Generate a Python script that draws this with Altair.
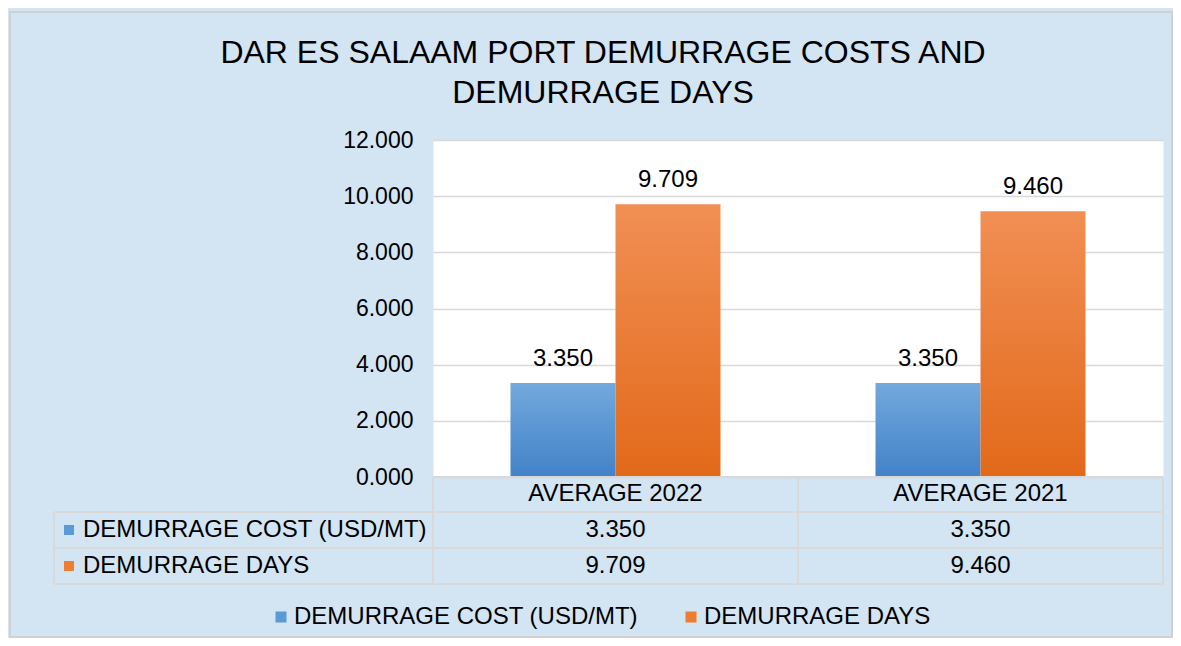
import altair as alt
import pandas as pd

# ---------------- data ----------------
categories = ["AVERAGE 2022", "AVERAGE 2021"]
series_names = ["DEMURRAGE COST (USD/MT)", "DEMURRAGE DAYS"]
cost_values = [3.350, 3.350]
days_values = [9.709, 9.460]
y_ticks = [0, 2, 4, 6, 8, 10, 12]
title_lines = ["DAR ES SALAAM PORT DEMURRAGE COSTS AND", "DEMURRAGE DAYS"]

rows = []
for s, vals in zip(series_names, [cost_values, days_values]):
    for c, v in zip(categories, vals):
        rows.append({"category": c, "series": s, "value": v})
df = pd.DataFrame(rows)
cat_df = pd.DataFrame({"category": categories})
ser_df = pd.DataFrame({"series": series_names})
one_df = pd.DataFrame({"k": [0]})

# ---------------- style ----------------
W, H = 730, 337
FONT = "Liberation Sans"
BLUE, ORANGE = "#5b9bd5", "#ed7d31"
GRID = "#d9d9d9"
BG = "#d3e4f3"


def grad(top, bottom):
    return alt.Gradient(
        gradient="linear", x1=0, y1=0, x2=0, y2=1,
        stops=[alt.GradientStop(color=top, offset=0),
               alt.GradientStop(color=bottom, offset=1)],
    )


fills = {series_names[0]: grad("#72a9de", "#4282c8"),
         series_names[1]: grad("#f18f54", "#e2691a")}
solid = {series_names[0]: BLUE, series_names[1]: ORANGE}
row_y = {series_names[0]: 390, series_names[1]: 426}

x_enc = alt.X("category:N", sort=categories,
              scale=alt.Scale(domain=categories, paddingInner=0.4247, paddingOuter=0.2123),
              axis=None)
xo_enc = alt.XOffset("series:N", sort=series_names,
                     scale=alt.Scale(domain=series_names, paddingInner=0, paddingOuter=0))
y_enc = alt.Y("value:Q",
              scale=alt.Scale(domain=[0, 12], nice=False, zero=True),
              axis=alt.Axis(values=y_ticks, format=".3f", title=None, domain=False,
                            ticks=False, labelPadding=20, labelFontSize=23,
                            labelFont=FONT, labelColor="#000000",
                            gridColor=GRID, gridWidth=1.5))

base = alt.Chart(df)
layers = []

# outer frame border
layers.append(alt.Chart(one_df).mark_rect(fill="transparent", stroke="#d0d0d0", strokeWidth=2)
              .encode(x=alt.value(-423), x2=alt.value(739), y=alt.value(-128), y2=alt.value(497)))

# invisible layer that carries the legend
layers.append(base.mark_bar(opacity=0).encode(
    x=x_enc, xOffset=xo_enc, y=y_enc,
    color=alt.Color("series:N", scale=alt.Scale(domain=series_names, range=[BLUE, ORANGE]),
                    legend=alt.Legend(orient="none", legendX=-164, legendY=465,
                                      direction="horizontal", title=None,
                                      symbolType="square", symbolSize=121,
                                      symbolOpacity=1, symbolStrokeWidth=0,
                                      labelFontSize=24, labelFont=FONT,
                                      labelColor="#000000", labelOffset=1,
                                      columnPadding=41, padding=0, labelLimit=600))))

# bars with gradients
for s in series_names:
    layers.append(base.transform_filter(alt.datum.series == s)
                  .mark_bar(fill=fills[s])
                  .encode(x=x_enc, xOffset=xo_enc, y=y_enc))

# bar value labels
layers.append(base.mark_text(fontSize=24, font=FONT, color="#000000", dy=-17,
                             baseline="alphabetic")
              .encode(x=x_enc, xOffset=xo_enc, y=alt.Y("value:Q"),
                      text=alt.Text("value:Q", format=".3f")))

# data table lines
def hrule(y, x1, x2):
    return alt.Chart(one_df).mark_rule(color=GRID, strokeWidth=2).encode(
        x=alt.value(x1), x2=alt.value(x2), y=alt.value(y))


def vrule(x, y1, y2):
    return alt.Chart(one_df).mark_rule(color=GRID, strokeWidth=2).encode(
        x=alt.value(x), y=alt.value(y1), y2=alt.value(y2))


layers += [hrule(H, 0, W), hrule(372, -379, W), hrule(408, -379, W), hrule(444, -379, W),
           vrule(0, H, 444), vrule(365, H, 444), vrule(W, H, 444), vrule(-379, 372, 444)]

# table header (categories)
layers.append(alt.Chart(cat_df).mark_text(fontSize=24, font=FONT, color="#000000",
                                          baseline="middle")
              .encode(x=x_enc, y=alt.value(354), text="category:N"))

# table rows
for s in series_names:
    layers.append(base.transform_filter(alt.datum.series == s)
                  .mark_text(fontSize=24, font=FONT, color="#000000", baseline="middle")
                  .encode(x=x_enc, y=alt.value(row_y[s]),
                          text=alt.Text("value:Q", format=".3f")))
    layers.append(alt.Chart(ser_df).transform_filter(alt.datum.series == s)
                  .mark_text(fontSize=24, font=FONT, color="#000000", align="left",
                             baseline="middle")
                  .encode(x=alt.value(-350), y=alt.value(row_y[s]), text="series:N"))
    layers.append(alt.Chart(ser_df).transform_filter(alt.datum.series == s)
                  .mark_square(size=100, opacity=1, color=solid[s])
                  .encode(x=alt.value(-364), y=alt.value(row_y[s])))

chart = alt.layer(*layers).properties(
    width=W, height=H,
    title=alt.TitleParams(text=title_lines, fontSize=32, font=FONT, fontWeight="normal",
                          color="#000000", anchor="middle", frame="group", dx=-195,
                          offset=-99, lineHeight=40),
    padding={"left": 425, "top": 132, "right": 10, "bottom": 161},
    autosize=alt.AutoSizeParams(type="none"),
).configure(background=BG).configure_view(fill="white", stroke="transparent")

chart.save("out.html", embed_options={"renderer": "svg", "actions": False})
